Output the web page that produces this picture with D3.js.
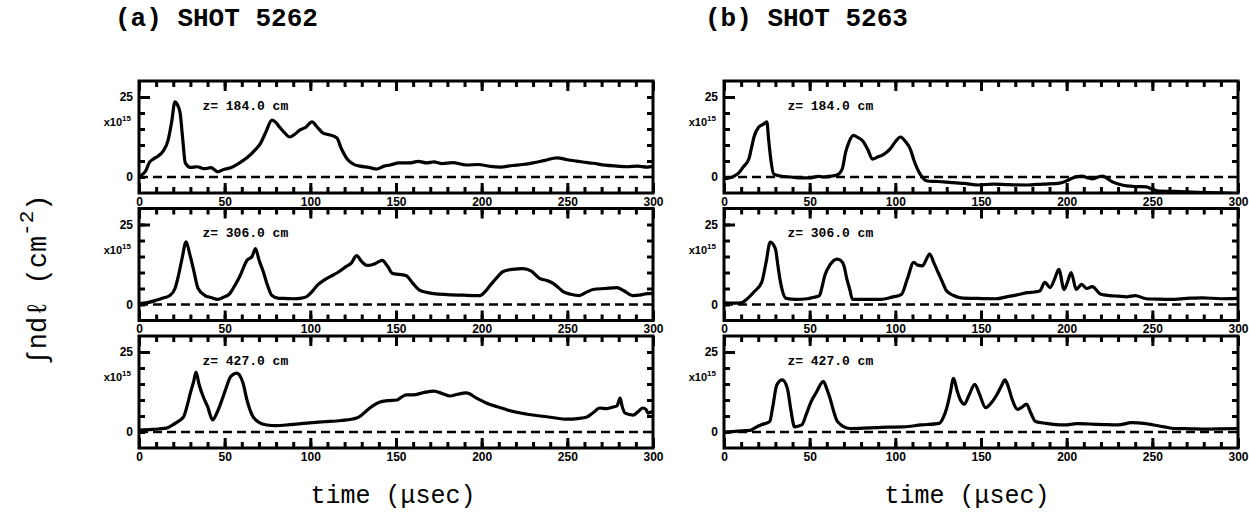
<!DOCTYPE html>
<html>
<head>
<meta charset="utf-8">
<script src="https://cdn.jsdelivr.net/npm/d3@7"></script>
<style>
  body { margin: 0; background: #fff; }
  svg { display: block; }
</style>
</head>
<body>
<div id="chart"></div>
<script>
const shots = ["(a) SHOT 5262", "(b) SHOT 5263"];
const positions = ["z= 184.0 cm", "z= 306.0 cm", "z= 427.0 cm"];
const xTicksMajor = [0, 50, 100, 150, 200, 250, 300];
const xTicksMinor = [0, 10, 20, 30, 40, 50, 60, 70, 80, 90, 100, 110, 120, 130, 140, 150,
    160, 170, 180, 190, 200, 210, 220, 230, 240, 250, 260, 270, 280, 290, 300];
const yTicks = [0, 5, 10, 15, 20, 25];
const yLabelled = [0, 25];

// shot 5262, [time usec, density x1e15]
const a184 = [[0,0],[2,0.8],[4,2],[6,4.5],[8,5.5],[11,6.5],[14,8],[17,11.5],[19,17],[21,23.5],[22.5,22.5],[24,20],[25.5,12],[27,4.4],[30,3],[34,3.2],[38,2.6],[42,2.9],[46,1.6],[49,2.3],[53,2.8],[58,4.2],[63,6],[67,8],[71,10.6],[74,14],[77.6,17.8],[80,17],[82,15.6],[85,13.8],[88,12.5],[91,13.4],[94,14.7],[97,15.4],[101,17.2],[104,15.6],[107.5,13.7],[111,13.2],[115.5,12.2],[118,9],[122,5.3],[126,3.8],[129,3.4],[134,3],[139,2.5],[143,3.4],[146.5,3.75],[152,4.4],[158,4.4],[163,4.9],[168,4.4],[172,4.7],[177,4.2],[183,4.5],[191,3.75],[198,3.9],[205,3.3],[211,3.1],[218,3.6],[224,3.9],[230,4.4],[237,5.2],[244,6],[250,5.4],[255,5],[259,4.7],[265,4.3],[272,3.7],[279,3.4],[285,3.2],[291,3.4],[296.5,3.1],[300,3.3]];
const a306 = [[0,0.3],[5,0.6],[10,1.3],[14,2],[18,2.8],[21,5],[23,9],[25,14],[27.5,19.6],[29.5,16],[31.7,11.2],[34.5,5],[38.5,2.8],[42,2.2],[46,1.6],[49,2.2],[53,3.4],[56,6],[59,9],[61,11.5],[63,13.8],[66,15],[68,17.5],[70,14],[72.5,10.3],[75,6],[77.6,2.8],[81,2],[84,1.9],[90,1.8],[95,2],[98,2.5],[101,4],[104,6],[108,7.6],[111.5,8.7],[116,10],[121,11.9],[124,13],[127,15.3],[130,13.4],[133,12.2],[137,12.6],[140,13.4],[142,13.8],[145,12],[148,9.7],[152,9.4],[156,9],[160,6.5],[164,4.4],[168,3.8],[172,3.4],[180,3.1],[190,2.9],[199,2.8],[202,4],[205,6],[209,8.5],[212.5,10.3],[218,11],[224,11.2],[229,10.4],[234,8.1],[238,7.5],[241.7,6.6],[245,5.2],[247.5,4],[252,3.2],[257,2.8],[261,3.8],[265,4.7],[272,5],[279,5.3],[283,4.3],[288,2.8],[293,3],[296.5,3.4],[300,3.5]];
const a427 = [[0,0.6],[8,0.8],[16,1.2],[19,2],[22,3],[26,4.7],[28,8],[30,12.2],[32,16],[33.3,18.75],[35,15],[37.5,11],[40,8],[43,3.75],[45.5,6],[48.4,10],[51,14],[53,16.9],[55,18],[57,18.4],[59,17.5],[60.7,15.3],[63,10],[66,5.3],[70,3],[74.7,2.2],[80,2],[88,2.3],[98,2.8],[108,3.2],[118,3.6],[127,4.4],[130,5.3],[132,6.25],[136,8],[140.7,9.4],[145,9.8],[150.6,10],[153,10.8],[156,11.6],[160,11.6],[166,12.3],[172,12.8],[177,12],[181.5,11.25],[186,11.8],[191,12.2],[197,10.6],[203,9],[209,7.9],[215,6.9],[222,6],[230,5.3],[240,4.6],[250,4],[256,4.2],[261.5,4.7],[265,6],[269,7.5],[273,7.3],[276.7,7.8],[279,8.2],[280.8,10.6],[282,8],[283.7,5.9],[288.4,5.3],[291,6.2],[294,7.5],[296,7],[297,5.9],[300,6.5]];

// shot 5263
const b184 = [[0,-0.5],[3,-0.3],[6,0.3],[9,1.5],[11,3],[14.5,5.6],[16,9],[17.5,12.5],[20.3,15.6],[23,16.5],[25,17.2],[26,12],[27.3,5.6],[29,0.9],[33,0.3],[39,0],[45,-0.3],[50,-0.3],[55,0.2],[58,0],[63,0.3],[66,0.6],[69,2.5],[71,7.8],[73,11],[75.6,13],[78,12.4],[81,11.25],[84,8.5],[86.6,5.6],[90,6.3],[93,7],[97,8.8],[100,11],[103,12.5],[106,11],[108.7,8.75],[111,5],[114.5,0.9],[118.6,-1.25],[125,-1.4],[130,-1.6],[140,-2],[149,-2.5],[157,-2.2],[166,-2.4],[176.7,-2.5],[186,-2.2],[196,-1.9],[200,-1.2],[203.5,-0.3],[206,0.1],[209,0.3],[212,-0.2],[215,-0.6],[218,-0.1],[221,0.3],[224,-0.6],[227,-1.6],[231,-2.3],[235,-2.8],[241,-3],[246.5,-3.1],[250,-3.8],[254,-4.4],[263,-4.5],[273,-4.7],[283,-4.9],[293,-5],[300,-5.2]];
const b306 = [[0,0.5],[5,0.4],[9.8,0.5],[14,2],[18,4.2],[22,6.9],[24.5,13],[27,19.5],[30,17.4],[31.5,12],[33,6.9],[36.3,1.9],[42,1.6],[48.6,1.8],[52,2.2],[55.7,2.8],[57,5],[58.8,9],[62,12.5],[66,14.2],[68,13.8],[70,12.1],[71.7,8],[73.4,4.7],[75,1.6],[83,1.6],[91.4,1.6],[98,2.3],[103.6,3.2],[107,8],[110.8,13.2],[113,12.3],[115.9,12.1],[118,14],[120,15.8],[122.5,13],[125,10],[127.5,7],[130,4.2],[134,2.8],[138.3,2.1],[148,1.9],[158.7,1.8],[165,2.4],[171,3],[177,3.7],[181,3.9],[184.2,4.2],[187.3,6.9],[190.3,5.3],[193,8],[195.4,11],[198.5,4.7],[200.5,7],[202.6,10],[205.6,4.7],[208.7,6.3],[211.8,5],[214.8,5.6],[220,3.2],[225,2.8],[230,2.6],[235,2.4],[240,2.8],[246.4,1.8],[252,1.7],[260.7,1.6],[270,1.9],[279,2.1],[290,1.8],[300,1.9]];
const b427 = [[0,0],[8,0.3],[15.2,0.5],[18,1.3],[21.5,2.2],[26.7,3.3],[28.5,8],[30.8,14.7],[34,16.3],[37,13.6],[39,7],[41.2,1.6],[45.4,2.2],[48,5.5],[50.6,9.2],[54,12.5],[58,15.8],[60,13.5],[62,10.3],[64,6.5],[66.2,3.3],[73.5,1.1],[85,1.3],[95,1.5],[104.8,1.6],[115,2.2],[125.6,2.7],[127.5,4],[129.8,7.1],[132,12],[134,16.8],[136,13],[138,10],[140.2,8.7],[143,11.5],[146.4,14.9],[149,12],[152.7,7.6],[155,8.5],[159,11.4],[162,14.5],[164,16.3],[166,14],[168,10.5],[171.4,7.1],[174,7.8],[176.6,8.7],[179,6],[181.8,3.3],[188,2.7],[198.5,2.2],[206,2.6],[213,2.5],[222,2.3],[229.8,2.2],[238,2.9],[245,2.7],[250.6,2.2],[257,1.6],[263,1.1],[272,1],[281.8,0.9],[290,1],[300,1.1]];

const traces = [[a184, a306, a427], [b184, b306, b427]];

const width = 1249, height = 519;
const panelW = 514, panelH = 112;
const panelLeft = [139, 724];
const panelTop = [81, 208.5, 336];
const titleX = [115, 705];
const timeX = [393, 967];

const svg = d3.select("#chart")
    .append("svg")
    .attr("width", width)
    .attr("height", height);

const x = d3.scaleLinear().domain([0, 300]).range([0, panelW]);
const y = d3.scaleLinear().domain([-5, 30]).range([panelH, 0]);

const line = d3.line()
    .x(d => x(d[0]))
    .y(d => y(d[1]))
    .curve(d3.curveMonotoneX);

function styleAxis(g) {
    g.select(".domain").remove();
    g.selectAll(".tick line").attr("stroke", "#000").attr("stroke-width", 3);
    g.selectAll(".tick text")
        .attr("fill", "#000")
        .style("font-family", "'Liberation Sans', Arial, sans-serif")
        .style("font-size", "12px")
        .style("font-weight", "bold");
}

shots.forEach((shot, col) => {
    svg.append("text")
        .attr("x", titleX[col])
        .attr("y", 26)
        .style("font-family", "'Liberation Mono', monospace")
        .style("font-size", "26px")
        .style("font-weight", "bold")
        .text(shot);

    svg.append("text")
        .attr("x", timeX[col])
        .attr("y", 503)
        .attr("text-anchor", "middle")
        .style("font-family", "'Liberation Mono', monospace")
        .style("font-size", "25px")
        .text("time (\u03bcsec)");

    positions.forEach((pos, row) => {
        const g = svg.append("g")
            .attr("transform", `translate(${panelLeft[col]},${panelTop[row]})`);

        const clipId = `clip-${col}-${row}`;
        g.append("clipPath").attr("id", clipId)
            .append("rect").attr("width", panelW).attr("height", panelH);

        // zero line
        g.append("line")
            .attr("x1", 0).attr("x2", panelW)
            .attr("y1", y(0)).attr("y2", y(0))
            .attr("stroke", "#000")
            .attr("stroke-width", 2.5)
            .attr("stroke-dasharray", "9,5");

        // ticks, all pointing inwards
        g.append("g").attr("transform", `translate(0,${panelH})`)
            .call(d3.axisBottom(x).tickValues(xTicksMinor).tickSize(-6).tickFormat(""))
            .call(styleAxis);
        g.append("g").attr("transform", `translate(0,${panelH})`)
            .call(d3.axisBottom(x).tickValues(xTicksMajor).tickSize(-10).tickPadding(4))
            .call(styleAxis);
        g.append("g")
            .call(d3.axisTop(x).tickValues(xTicksMinor).tickSize(-6).tickFormat(""))
            .call(styleAxis);
        g.append("g")
            .call(d3.axisTop(x).tickValues(xTicksMajor).tickSize(-10).tickFormat(""))
            .call(styleAxis);
        g.append("g")
            .call(d3.axisLeft(y).tickValues(yTicks).tickSize(-6).tickPadding(6)
                .tickFormat(d => yLabelled.includes(d) ? d : ""))
            .call(styleAxis);
        g.append("g")
            .call(d3.axisLeft(y).tickValues([25]).tickSize(-11).tickFormat(""))
            .call(styleAxis);
        g.append("g").attr("transform", `translate(${panelW},0)`)
            .call(d3.axisRight(y).tickValues(yTicks.slice(1)).tickSize(-6).tickFormat(""))
            .call(styleAxis);

        // x10^15 unit
        const unit = g.append("text")
            .attr("x", -8)
            .attr("y", y(17))
            .attr("dy", "0.35em")
            .attr("text-anchor", "end")
            .style("font-family", "'Liberation Sans', Arial, sans-serif")
            .style("font-size", "11px")
            .style("font-weight", "bold");
        unit.append("tspan").text("x10");
        unit.append("tspan").attr("dy", -5).style("font-size", "8px").text("15");

        // frame
        g.append("rect")
            .attr("width", panelW).attr("height", panelH)
            .attr("fill", "none")
            .attr("stroke", "#000")
            .attr("stroke-width", 3);

        g.append("text")
            .attr("x", x(37))
            .attr("y", y(22.5))
            .attr("dy", "0.35em")
            .style("font-family", "'Liberation Mono', monospace")
            .style("font-size", "13px")
            .style("font-weight", "bold")
            .text(pos);

        g.append("path")
            .datum(traces[col][row])
            .attr("clip-path", `url(#${clipId})`)
            .attr("fill", "none")
            .attr("stroke", "#000")
            .attr("stroke-width", 3.2)
            .attr("stroke-linejoin", "round")
            .attr("d", line);
    });
});

// y axis title
const yTitle = svg.append("text")
    .attr("transform", "translate(46,280) rotate(-90)")
    .attr("text-anchor", "middle")
    .style("font-family", "'Liberation Mono', monospace")
    .style("font-size", "27px");
yTitle.append("tspan").text("\u222bnd\u2113 (cm");
yTitle.append("tspan").attr("dy", -13).style("font-size", "21px").text("-2");
yTitle.append("tspan").attr("dy", 13).text(")");
</script>
</body>
</html>
